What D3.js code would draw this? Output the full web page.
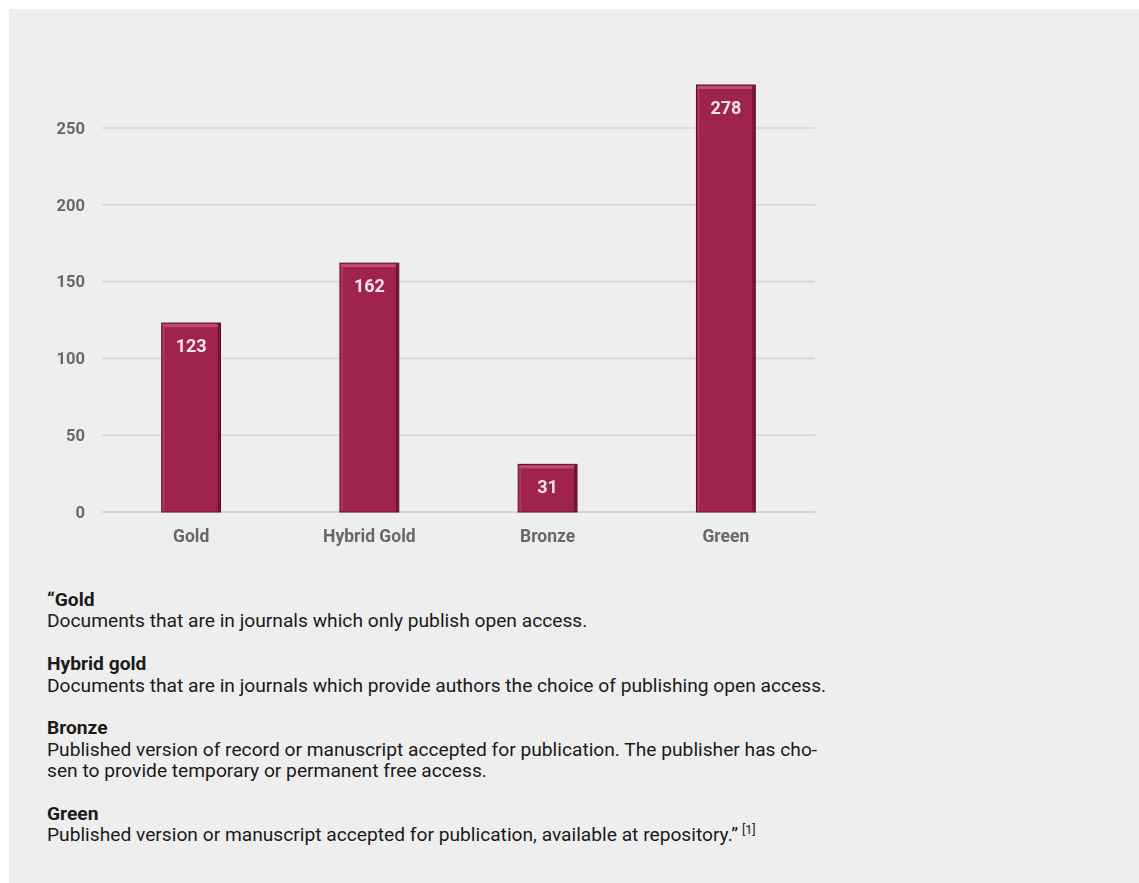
<!DOCTYPE html>
<html>
<head>
<meta charset="utf-8">
<script src="https://cdn.jsdelivr.net/npm/d3@7"></script>
<style>
  html, body { margin: 0; padding: 0; background: #ffffff; }
  svg { display: block; font-family: Roboto, "Noto Sans", sans-serif; }
</style>
</head>
<body>
<svg id="chart" width="1139" height="883"></svg>
<script>
// Open access document counts by type
const categories = ["Gold", "Hybrid Gold", "Bronze", "Green"];
const counts = [123, 162, 31, 278];
const yTicks = [0, 50, 100, 150, 200, 250];

// Definitions shown under the chart
const noteTitles = ["\u201cGold", "Hybrid gold", "Bronze", "Green"];
const noteLines = [
  ["Documents that are in journals which only publish open access."],
  ["Documents that are in journals which provide authors the choice of publishing open access."],
  ["Published version of record or manuscript accepted for publication. The publisher has cho-",
   "sen to provide temporary or permanent free access."],
  ["Published version or manuscript accepted for publication, available at repository.\u201d"]
];
const noteRef = "[1]";

const svg = d3.select("#chart");
const W = 1139, H = 883;

// panel background
svg.append("rect")
  .attr("x", 9).attr("y", 9)
  .attr("width", W - 9).attr("height", H - 9)
  .attr("fill", "#eeeeee");

const defs = svg.append("defs");
defs.append("filter").attr("id", "soft")
  .append("feGaussianBlur").attr("stdDeviation", 0.55);

const plot = { left: 102, right: 815, top: 85, bottom: 512 };

const x = d3.scaleBand()
  .domain(categories)
  .range([plot.left, plot.right])
  .paddingInner(0.67)
  .paddingOuter(0.335);

const y = d3.scaleLinear()
  .domain([0, 250])
  .range([plot.bottom, 128]);

const g = svg.append("g").attr("filter", "url(#soft)");

// horizontal grid lines
g.append("g")
  .selectAll("line")
  .data(yTicks)
  .join("line")
  .attr("x1", plot.left).attr("x2", plot.right)
  .attr("y1", d => y(d)).attr("y2", d => y(d))
  .attr("stroke", d => d === 0 ? "#cccccc" : "#d6d6d6")
  .attr("stroke-width", 1.6);

// y axis labels
const yAxis = d3.axisLeft(y).tickValues(yTicks).tickSize(0).tickPadding(17);
const yAxisG = g.append("g")
  .attr("transform", `translate(${plot.left},0)`)
  .call(yAxis);
yAxisG.select(".domain").remove();
yAxisG.selectAll("text")
  .attr("font-family", "Roboto, sans-serif")
  .attr("font-size", 16.5)
  .attr("font-weight", 700)
  .attr("fill", "#686868");

// x axis labels
const xAxis = d3.axisBottom(x).tickSize(0).tickPadding(18);
const xAxisG = g.append("g")
  .attr("transform", `translate(0,${plot.bottom})`)
  .call(xAxis);
xAxisG.select(".domain").remove();
xAxisG.selectAll("text")
  .attr("font-family", "Roboto, sans-serif")
  .attr("font-size", 17.5)
  .attr("font-weight", 700)
  .attr("fill", "#686868");

const data = categories.map((c, i) => ({ cat: c, v: counts[i] }));

const bars = g.append("g").selectAll("g").data(data).join("g");

// bar body
bars.append("rect")
  .attr("x", d => x(d.cat))
  .attr("y", d => y(d.v))
  .attr("width", x.bandwidth())
  .attr("height", d => y(0) - y(d.v))
  .attr("fill", "#9f244f")
  .attr("stroke", "#5c1029")
  .attr("stroke-width", 1);

// top highlight
bars.append("rect")
  .attr("x", d => x(d.cat) + 1)
  .attr("y", d => y(d.v) + 1)
  .attr("width", x.bandwidth() - 2)
  .attr("height", 3)
  .attr("fill", "#c24a72");

// left highlight
bars.append("rect")
  .attr("x", d => x(d.cat) + 1)
  .attr("y", d => y(d.v) + 4)
  .attr("width", 2)
  .attr("height", d => y(0) - y(d.v) - 5)
  .attr("fill", "#b03560");

// right shade
bars.append("rect")
  .attr("x", d => x(d.cat) + x.bandwidth() - 3)
  .attr("y", d => y(d.v) + 1)
  .attr("width", 2.5)
  .attr("height", d => y(0) - y(d.v) - 1)
  .attr("fill", "#6e1734");

// value labels inside bar tops
bars.append("text")
  .attr("x", d => x(d.cat) + x.bandwidth() / 2)
  .attr("y", d => y(d.v) + 29)
  .attr("text-anchor", "middle")
  .attr("font-family", "Roboto, sans-serif")
  .attr("font-size", 18)
  .attr("font-weight", 700)
  .attr("fill", "#f6e3ea")
  .text(d => d.v);

// definitions block
const notes = svg.append("g")
  .attr("font-family", "Roboto, sans-serif")
  .attr("font-size", 19.2)
  .attr("fill", "#1a1a1a");

const lineStep = 21.4;
let row = 0;
const baseY = 606, textX = 47;
noteTitles.forEach((title, i) => {
  notes.append("text")
    .attr("x", textX).attr("y", baseY + row * lineStep)
    .attr("font-weight", 700)
    .text(title);
  row++;
  noteLines[i].forEach((line, j) => {
    const t = notes.append("text")
      .attr("x", textX).attr("y", baseY + row * lineStep)
      .text(line);
    if (i === noteTitles.length - 1 && j === noteLines[i].length - 1) {
      t.append("tspan")
        .attr("font-size", 12.5)
        .attr("dy", -7)
        .attr("dx", 4)
        .text(noteRef);
    }
    row++;
  });
  row++;
});
</script>
</body>
</html>
